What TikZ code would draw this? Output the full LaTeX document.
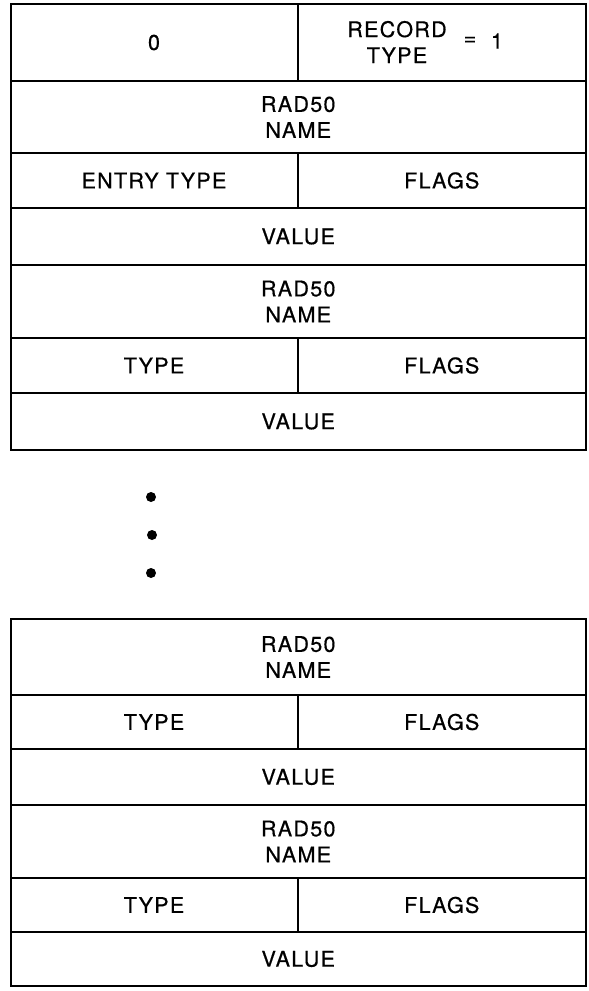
\documentclass[tikz,border=0pt]{standalone}
\usepackage{fontspec}
\setmainfont[LetterSpace=6,FakeBold=0.6]{TeX Gyre Heros}
\begin{document}
\begin{tikzpicture}[x=1pt,y=-1pt,
  cell/.style={draw, line width=2pt, inner sep=0pt, outer sep=0pt, align=center,
    font=\fontsize{21.5}{26}\selectfont},
  lbl/.style={inner sep=0pt, align=center, font=\fontsize{21.5}{26}\selectfont},
  dotmark/.style={circle, fill=black, inner sep=0pt, minimum size=10pt}]
\useasboundingbox (0,0) rectangle (589,991);
\newcommand\cellbox[6]{%
  \node[cell, minimum width={(#4-#2)*1pt}, minimum height={(#5-#3)*1pt}]
    (#1) at ({(#2+#4)/2},{(#3+#5)/2}) {#6};}
% top table
\cellbox{zero}{10.5}{4}{297.5}{81}{0}
\cellbox{rectype}{297.5}{4}{586}{81}{}
\node[lbl] (rt) at (397,42) {RECORD\\TYPE};
\node[lbl] (eq) at (470,41) {=};
\node[lbl] (one) at (497,41) {1};
\cellbox{nameA}{10.5}{81}{586}{153}{RAD50\\NAME}
\cellbox{etype}{10.5}{153}{297.5}{208}{ENTRY TYPE}
\cellbox{flagsA}{297.5}{153}{586}{208}{FLAGS}
\cellbox{valueA}{10.5}{208}{586}{265}{VALUE}
\cellbox{nameB}{10.5}{265}{586}{338}{RAD50\\NAME}
\cellbox{typeB}{10.5}{338}{297.5}{393}{TYPE}
\cellbox{flagsB}{297.5}{338}{586}{393}{FLAGS}
\cellbox{valueB}{10.5}{393}{586}{450}{VALUE}
% dots
\node[dotmark] (d1) at (151,497) {};
\node[dotmark] (d2) at (152,535) {};
\node[dotmark] (d3) at (151,573) {};
% bottom table
\cellbox{nameC}{10.5}{619}{586}{695}{RAD50\\NAME}
\cellbox{typeC}{10.5}{695}{297.5}{749}{TYPE}
\cellbox{flagsC}{297.5}{695}{586}{749}{FLAGS}
\cellbox{valueC}{10.5}{749}{586}{805}{VALUE}
\cellbox{nameD}{10.5}{805}{586}{878}{RAD50\\NAME}
\cellbox{typeD}{10.5}{878}{297.5}{932}{TYPE}
\cellbox{flagsD}{297.5}{878}{586}{932}{FLAGS}
\cellbox{valueD}{10.5}{932}{586}{986}{VALUE}
\end{tikzpicture}
\end{document}
